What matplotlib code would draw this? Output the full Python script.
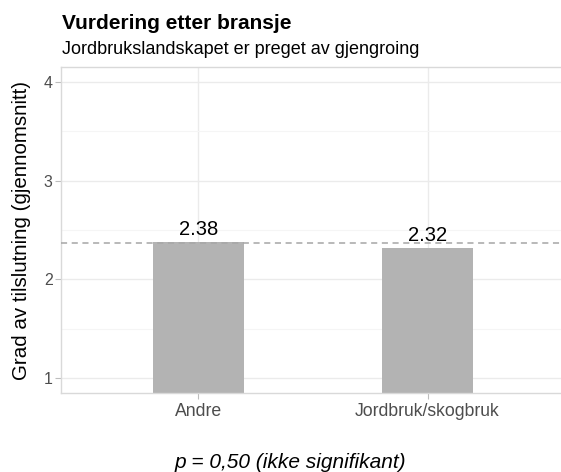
import matplotlib.pyplot as plt
from matplotlib.ticker import MultipleLocator

plt.rcParams['font.family'] = ['Liberation Sans', 'DejaVu Sans']

# data
kategorier = ['Andre', 'Jordbruk/skogbruk']
snitt = [2.38, 2.32]
totalsnitt = 2.37
y_ticks = [1, 2, 3, 4]

tittel = 'Vurdering etter bransje'
undertittel = 'Jordbrukslandskapet er preget av gjengroing'
y_tittel = 'Grad av tilslutning (gjennomsnitt)'
fotnote = 'p = 0,50 (ikke signifikant)'

fig = plt.figure(figsize=(5.61, 4.72), dpi=100)
ax = fig.add_axes([61 / 561, 1 - 393 / 472, 504 / 561, 326 / 472])

x = list(range(len(kategorier)))
ax.bar(x, snitt, width=0.4, color='#b3b3b3', zorder=2)
ax.axhline(totalsnitt, color='#a6a6a6', linestyle=(0, (4, 3)), linewidth=1.1, zorder=3)
for xi, v in zip(x, snitt):
    ax.annotate('%.2f' % v, (xi, v), xytext=(0, 5), textcoords='offset points',
                ha='center', va='baseline', fontsize=14.5, color='black', zorder=4)

ax.set_xlim(-0.6, 1.6)
ax.set_ylim(0.85, 4.15)
ax.set_xticks(x)
ax.set_xticklabels(kategorier)
ax.set_yticks(y_ticks)
ax.yaxis.set_minor_locator(MultipleLocator(0.5))

ax.grid(True, which='major', color='#ebebeb', linewidth=1.0, zorder=0)
ax.grid(True, which='minor', axis='y', color='#f5f5f5', linewidth=0.8, zorder=0)
ax.set_axisbelow(True)

for side in ['left', 'bottom', 'top', 'right']:
    ax.spines[side].set_color('#d9d9d9')
    ax.spines[side].set_linewidth(1.0)

ax.tick_params(axis='both', which='major', color='#bdbdbd', length=4, width=0.8)
ax.tick_params(axis='y', which='minor', length=0)
ax.tick_params(axis='y', labelsize=11.5, labelcolor='#4d4d4d', pad=2)
ax.tick_params(axis='x', labelsize=12.7, labelcolor='#4d4d4d', pad=3)

ax.set_ylabel(y_tittel, fontsize=14.8, color='black', labelpad=9)

fig.text(62.5 / 561, 1 - 29 / 472, tittel, fontsize=15, fontweight='bold', va='baseline', ha='left')
fig.text(62 / 561, 1 - 54 / 472, undertittel, fontsize=13, va='baseline', ha='left')
fig.text(290 / 561, 1 - 463 / 472, fotnote, fontsize=15, style='italic', ha='center', va='center')

fig.savefig('out.png', dpi=100)
